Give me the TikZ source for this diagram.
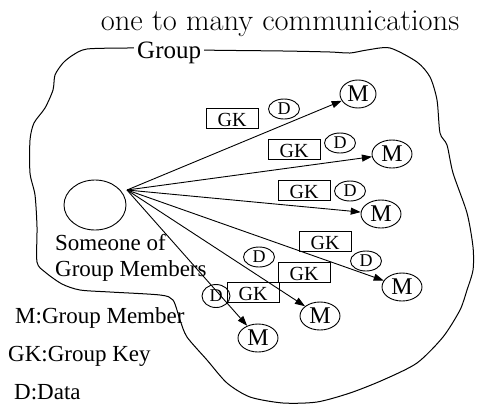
\documentclass[tikz,border=0pt]{standalone}
\usepackage{fontspec}
\newfontfamily\labelfont{Liberation Serif}
\usetikzlibrary{arrows.meta,shapes.geometric}

\tikzset{
  member/.style={draw, ellipse, line width=0.9pt, minimum width=40pt, minimum height=28pt, inner sep=0pt, font=\labelfont\fontsize{24}{24}\selectfont},
  datum/.style={draw, ellipse, line width=0.9pt, minimum width=31pt, minimum height=20pt, inner sep=0pt, font=\labelfont\fontsize{18}{18}\selectfont},
  keybox/.style={draw, rectangle, line width=0.9pt, minimum width=52pt, text height=16pt, text depth=0pt, inner xsep=0pt, inner ysep=2pt, font=\labelfont\fontsize{20}{20}\selectfont},
  plaintext/.style={inner sep=0pt, font=\labelfont\fontsize{23}{26}\selectfont},
  send/.style={-{Triangle[length=10pt,width=7pt]}, line width=0.9pt},
}

\begin{document}
\begin{tikzpicture}[x=1pt, y=-1pt]
  \useasboundingbox (0,0) rectangle (486,410);

  %%%%% TITLE %%%%%
  \node[anchor=base, inner sep=0pt, font=\fontsize{30.5}{32}\selectfont] (title) at (280,30) {one to many communications};

  %%%%% GROUP OUTLINE %%%%%
  \draw[line width=1pt] plot[smooth cycle, tension=0.45] coordinates {
    (87,49) (127,48) (165,48) (200,50) (283,51) (330,52) (350,53) (367,50)
    (390,48) (417,62) (430,77) (437,100) (440,133) (447,145) (453,173)
    (467,213) (473,247) (473,270) (467,290) (460,310) (443,337) (417,363)
    (383,380) (350,393) (317,402) (283,403) (250,397) (227,383) (207,360)
    (187,337) (180,320) (173,300) (160,295) (110,292) (80,290) (62,284)
    (45,272) (37,262) (37,227) (35,195) (30,173) (30,140) (34,123) (45,108)
    (53,90) (55,75) (63,63) (73,55)};
  \node[plaintext, fill=white, inner xsep=3pt, inner ysep=1pt, font=\labelfont\fontsize{25}{25}\selectfont, anchor=base west] (grouptxt) at (134,58) {Group};

  %%%%% SENDER %%%%%
  \node[draw, ellipse, line width=0.9pt, minimum width=62pt, minimum height=50pt] (someone) at (95,205) {};
  \coordinate (src) at (127,190);
  \node[plaintext, align=left, anchor=north west] (someonetxt) at (55,234) {Someone of\\Group Members};

  %%%%% MEMBERS %%%%%
  \node[member, minimum width=36pt] (m1) at (358,94) {M};
  \node[member] (m2) at (392,154) {M};
  \node[member] (m3) at (381,214) {M};
  \node[member] (m4) at (402,287) {M};
  \node[member] (m5) at (320,316) {M};
  \node[member] (m6) at (258,338) {M};

  %%%%% KEYS AND DATA %%%%%
  \node[keybox] (gk1) at (232,118) {GK};
  \node[keybox] (gk2) at (294,149) {GK};
  \node[keybox] (gk3) at (304,190) {GK};
  \node[keybox] (gk4) at (325,241) {GK};
  \node[keybox] (gk5) at (304,272) {GK};
  \node[keybox] (gk6) at (253,292) {GK};

  \node[datum] (d1) at (284,109) {D};
  \node[datum] (d2) at (340,143) {D};
  \node[datum] (d3) at (350,191) {D};
  \node[datum] (d4) at (366,261) {D};
  \node[datum] (d5) at (259,257) {D};
  \node[datum, minimum width=28pt, minimum height=23pt] (d6) at (216,296) {D};

  %%%%% ARROWS %%%%%
  \foreach \m in {m1,m2,m3,m4,m5,m6}
    \draw[send] (src) -- (\m);

  %%%%% LEGEND %%%%%
  \node[plaintext, anchor=base west] (mkey) at (15,323) {M:Group Member};
  \node[plaintext, anchor=base west] (gkkey) at (8,361) {GK:Group Key};
  \node[plaintext, anchor=base west] (dkey) at (14,399) {D:Data};
\end{tikzpicture}
\end{document}
